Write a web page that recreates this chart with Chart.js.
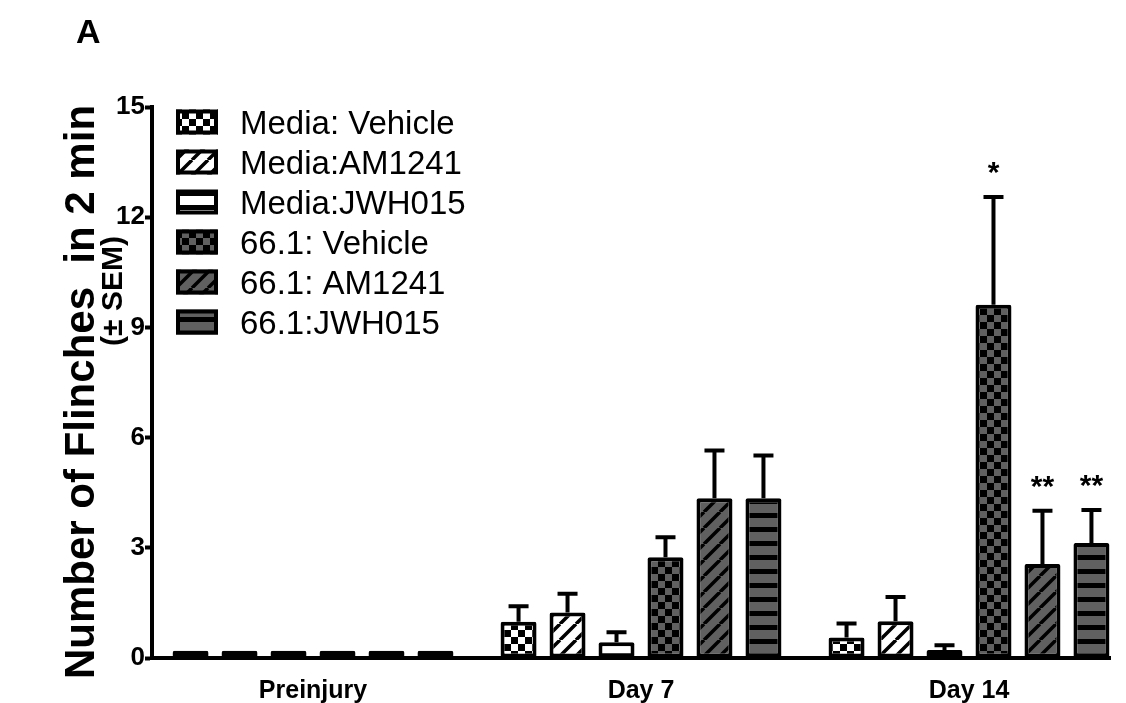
<!DOCTYPE html>
<html>
<head>
<meta charset="utf-8">
<script src="https://cdn.jsdelivr.net/npm/chart.js@4/dist/chart.umd.min.js"></script>
<style>
  html, body { margin: 0; padding: 0; background: #fff; overflow: hidden; }
  #wrap { position: relative; width: 1126px; height: 703px; }
</style>
</head>
<body>
<div id="wrap"><canvas id="c" width="1126" height="703"></canvas></div>
<script>
// Time points on the x axis
const categories = ['Preinjury', 'Day 7', 'Day 14'];
// Group names
const seriesNames = ['Media: Vehicle', 'Media:AM1241', 'Media:JWH015', '66.1: Vehicle', '66.1: AM1241', '66.1:JWH015'];

// Mean number of flinches in 2 min
const mediaVehicle = [0.2, 0.99, 0.56];
const mediaAM1241  = [0.2, 1.24, 1.00];
const mediaJWH015  = [0.2, 0.43, 0.22];
const c661Vehicle  = [0.2, 2.74, 9.62];
const c661AM1241   = [0.2, 4.35, 2.56];
const c661JWH015   = [0.2, 4.35, 3.13];

// SEM (upper error bars)
const semMediaVehicle = [0, 0.42, 0.38];
const semMediaAM1241  = [0, 0.51, 0.66];
const semMediaJWH015  = [0, 0.27, 0.13];
const sem661Vehicle   = [0, 0.55, 2.93];
const sem661AM1241    = [0, 1.30, 1.45];
const sem661JWH015    = [0, 1.16, 0.90];

// Significance marks
const starsMediaVehicle = ['', '', ''];
const starsMediaAM1241  = ['', '', ''];
const starsMediaJWH015  = ['', '', ''];
const stars661Vehicle   = ['', '', '*'];
const stars661AM1241    = ['', '', '**'];
const stars661JWH015    = ['', '', '**'];

// y axis ticks
const yTicks = [0, 3, 6, 9, 12, 15];

const GREY = '#606060';

function makePattern(kind, bg) {
  const c = document.createElement('canvas');
  let ctx;
  if (kind === 'checker') {
    const s = 7;
    c.width = c.height = 2 * s;
    ctx = c.getContext('2d');
    ctx.fillStyle = bg; ctx.fillRect(0, 0, 2 * s, 2 * s);
    ctx.fillStyle = '#000';
    ctx.fillRect(0, 0, s, s); ctx.fillRect(s, s, s, s);
  } else if (kind === 'diag') {
    const s = 16;
    c.width = c.height = s;
    ctx = c.getContext('2d');
    ctx.fillStyle = bg; ctx.fillRect(0, 0, s, s);
    ctx.strokeStyle = '#000'; ctx.lineWidth = 3.5;
    ctx.beginPath();
    for (const k of [-1, 0, 1]) { ctx.moveTo(k * s, s); ctx.lineTo(k * s + s, 0); }
    ctx.stroke();
  } else {
    c.width = 8; c.height = 14;
    ctx = c.getContext('2d');
    ctx.fillStyle = bg; ctx.fillRect(0, 0, 8, 14);
    ctx.fillStyle = '#000'; ctx.fillRect(0, 9, 8, 5);
  }
  return ctx.createPattern(c, 'repeat');
}

const means = [mediaVehicle, mediaAM1241, mediaJWH015, c661Vehicle, c661AM1241, c661JWH015];
const sems = [semMediaVehicle, semMediaAM1241, semMediaJWH015, sem661Vehicle, sem661AM1241, sem661JWH015];
const stars = [starsMediaVehicle, starsMediaAM1241, starsMediaJWH015, stars661Vehicle, stars661AM1241, stars661JWH015];
const fills = [
  makePattern('checker', '#fff'), makePattern('diag', '#fff'), makePattern('horiz', '#fff'),
  makePattern('checker', GREY), makePattern('diag', GREY), makePattern('horiz', GREY)
];

const datasets = seriesNames.map((name, i) => ({
  label: name,
  data: means[i].map((v, j) => ({ x: j, y: v })),
  sem: sems[i],
  stars: stars[i],
  backgroundColor: fills[i],
  borderColor: '#000',
  borderWidth: 4,
  borderSkipped: false,
  borderRadius: 2,
  categoryPercentage: 0.896,
  barPercentage: 0.735
}));

// Upper SEM bars and significance marks
const errorBars = {
  id: 'errorBars',
  afterDatasetsDraw(chart) {
    const ctx = chart.ctx;
    const y = chart.scales.y;
    ctx.save();
    ctx.strokeStyle = '#000';
    ctx.fillStyle = '#000';
    ctx.lineWidth = 4;
    chart.data.datasets.forEach((ds, i) => {
      const meta = chart.getDatasetMeta(i);
      meta.data.forEach((bar, j) => {
        const m = ds.data[j].y, e = ds.sem[j];
        const yTop = y.getPixelForValue(m + e);
        if (e > 0) {
          ctx.beginPath();
          ctx.moveTo(bar.x, bar.y);
          ctx.lineTo(bar.x, yTop);
          ctx.moveTo(bar.x - 10, yTop);
          ctx.lineTo(bar.x + 10, yTop);
          ctx.stroke();
        }
        if (ds.stars[j]) {
          ctx.font = 'bold 30px "Liberation Sans", Arial, sans-serif';
          ctx.textAlign = 'center';
          ctx.textBaseline = 'alphabetic';
          ctx.fillText(ds.stars[j], bar.x, yTop - 15);
        }
      });
    });
    ctx.restore();
  }
};

// Legend, axis title and panel letter
const annotations = {
  id: 'annotations',
  afterDraw(chart) {
    const ctx = chart.ctx;
    ctx.save();
    // legend
    chart.data.datasets.forEach((ds, i) => {
      const cy = 122 + i * 40;
      const bx = 176, bw = 42, bh = 25;
      ctx.fillStyle = ds.backgroundColor;
      ctx.fillRect(bx, cy - bh / 2, bw, bh);
      ctx.lineWidth = 4;
      ctx.strokeStyle = '#000';
      ctx.strokeRect(bx + 2, cy - bh / 2 + 2, bw - 4, bh - 4);
      ctx.fillStyle = '#000';
      ctx.font = '33px "Liberation Sans", Arial, sans-serif';
      ctx.textAlign = 'left';
      ctx.textBaseline = 'alphabetic';
      ctx.fillText(ds.label, 240, cy + 12);
    });
    // y axis title
    ctx.fillStyle = '#000';
    ctx.textAlign = 'center';
    ctx.textBaseline = 'alphabetic';
    ctx.save();
    ctx.translate(94, 392);
    ctx.rotate(-Math.PI / 2);
    ctx.font = 'bold 42px "Liberation Sans", Arial, sans-serif';
    ctx.fillText('Number of Flinches  in 2 min', 0, 0);
    ctx.restore();
    ctx.save();
    ctx.translate(122, 291);
    ctx.rotate(-Math.PI / 2);
    ctx.font = 'bold 30px "Liberation Sans", Arial, sans-serif';
    ctx.fillText('(\u00b1 SEM)', 0, 0);
    ctx.restore();
    // panel letter
    ctx.textAlign = 'left';
    ctx.font = 'bold 34px "Liberation Sans", Arial, sans-serif';
    ctx.fillText('A', 76, 43);
    ctx.restore();
  }
};

new Chart(document.getElementById('c'), {
  type: 'bar',
  data: { datasets },
  options: {
    responsive: false,
    animation: false,
    devicePixelRatio: 1,
    layout: { padding: { left: 0, top: 107, right: 16, bottom: 0 } },
    plugins: { legend: { display: false }, tooltip: { enabled: false } },
    scales: {
      x: {
        type: 'linear',
        offset: false,
        min: -0.4909,
        max: 2.4299,
        afterBuildTicks: (s) => { s.ticks = categories.map((_, i) => ({ value: i })); },
        afterFit: (s) => { s.height = 45; },
        ticks: {
          callback: (v) => categories[v],
          color: '#000',
          font: { family: '"Liberation Sans", Arial, sans-serif', size: 25, weight: 'bold' },
          padding: 10,
          maxRotation: 0
        },
        grid: { display: false, offset: false },
        border: { display: true, color: '#000', width: 4 }
      },
      y: {
        min: 0,
        max: 15,
        afterBuildTicks: (s) => { s.ticks = yTicks.map(v => ({ value: v })); },
        afterFit: (s) => { s.width = 152; },
        ticks: {
          color: '#000',
          font: { family: '"Liberation Sans", Arial, sans-serif', size: 26, weight: 'bold' },
          padding: 0
        },
        grid: { display: true, drawOnChartArea: false, drawTicks: true, tickLength: 7, tickWidth: 4, tickColor: '#000' },
        border: { display: true, color: '#000', width: 4 }
      }
    }
  },
  plugins: [errorBars, annotations]
});
</script>
</body>
</html>
